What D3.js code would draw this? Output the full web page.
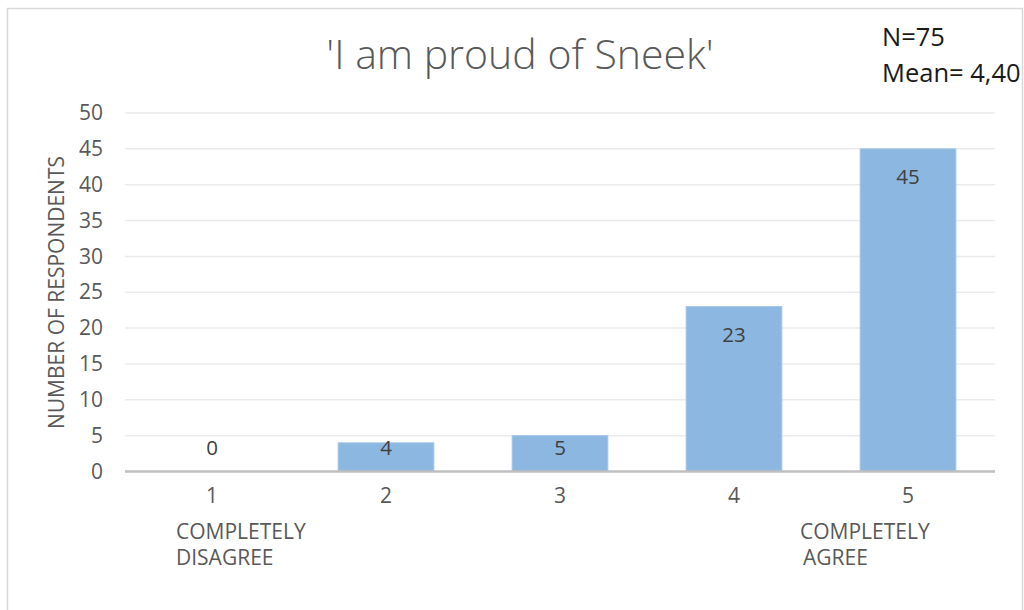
<!DOCTYPE html>
<html>
<head>
<meta charset="utf-8">
<script src="https://cdn.jsdelivr.net/npm/d3@7"></script>
<style>
  html, body { margin: 0; padding: 0; background: #fff; }
  svg { display: block; font-family: "Open Sans", sans-serif; }
</style>
</head>
<body>
<svg id="chart" width="1024" height="610"></svg>
<script>
// Survey answers on a 1–5 agreement scale
const categories = ["1", "2", "3", "4", "5"];
const respondents = [0, 4, 5, 23, 45];
const yTicks = [0, 5, 10, 15, 20, 25, 30, 35, 40, 45, 50];
const scaleEndLabels = [
  { category: "1", lines: ["COMPLETELY", "DISAGREE"] },
  { category: "5", lines: ["COMPLETELY", "AGREE"] }
];
const titleText = "'I am proud of Sneek'";
const statsLines = ["N=75", "Mean= 4,40"];
const yAxisTitle = "NUMBER OF RESPONDENTS";

const svg = d3.select("#chart");
const plot = { left: 125, right: 995, top: 113, bottom: 471.5 };

// Outer frame (bottom edge runs off the page)
svg.append("rect")
  .attr("x", 7.5).attr("y", 8.5)
  .attr("width", 1015).attr("height", 640)
  .attr("fill", "#fff").attr("stroke", "#d9d9d9").attr("stroke-width", 1.5);

const x = d3.scaleBand()
  .domain(categories)
  .range([plot.left, plot.right])
  .paddingInner(0.45).paddingOuter(0.225);

const y = d3.scaleLinear()
  .domain([0, 50])
  .range([plot.bottom, plot.top]);

// Horizontal gridlines
svg.append("g")
  .selectAll("line")
  .data(yTicks.filter(t => t > 0))
  .join("line")
  .attr("x1", plot.left).attr("x2", plot.right)
  .attr("y1", d => y(d)).attr("y2", d => y(d))
  .attr("stroke", "#ebebeb").attr("stroke-width", 1.5);

// Y axis tick labels
const yAxis = d3.axisLeft(y).tickValues(yTicks).tickSize(0).tickPadding(0);
const yG = svg.append("g")
  .attr("transform", `translate(${plot.left - 22},0)`)
  .call(yAxis);
yG.select(".domain").remove();
yG.selectAll("text")
  .attr("fill", "#595959")
  .style("font-size", "21px")
  .style("font-family", "'Open Sans', sans-serif");

// Bars
svg.append("g")
  .selectAll("rect")
  .data(categories.map((c, i) => ({ c, v: respondents[i] })))
  .join("rect")
  .attr("x", d => x(d.c))
  .attr("width", x.bandwidth())
  .attr("y", d => y(d.v))
  .attr("height", d => y(0) - y(d.v))
  .attr("fill", "#8cb7e1")
  .attr("stroke", "#a4c7ea").attr("stroke-width", 1);

// Baseline
svg.append("line")
  .attr("x1", plot.left).attr("x2", plot.right)
  .attr("y1", y(0)).attr("y2", y(0))
  .attr("stroke", "#bfbfbf").attr("stroke-width", 2.5);

// Value labels
svg.append("g")
  .selectAll("text")
  .data(categories.map((c, i) => ({ c, v: respondents[i] })))
  .join("text")
  .attr("x", d => x(d.c) + x.bandwidth() / 2)
  .attr("y", d => Math.min(y(d.v) + 28, y(0) - 24))
  .attr("dy", "0.35em")
  .attr("text-anchor", "middle")
  .attr("fill", "#404040")
  .style("font-size", "20.5px")
  .text(d => d.v);

// X axis category labels
const xAxis = d3.axisBottom(x).tickSize(0).tickPadding(0);
const xG = svg.append("g")
  .attr("transform", `translate(0,${y(0) + 17})`)
  .call(xAxis);
xG.select(".domain").remove();
xG.selectAll("text")
  .attr("fill", "#595959")
  .style("font-size", "21px")
  .style("font-family", "'Open Sans', sans-serif");

// Scale end descriptions
const endOffsets = { "1": -36, "5": -108 };
scaleEndLabels.forEach(lbl => {
  const cx = x(lbl.category) + x.bandwidth() / 2;
  const t = svg.append("text")
    .attr("x", cx + endOffsets[lbl.category])
    .attr("y", 539)
    .attr("fill", "#595959")
    .style("font-size", "21px");
  lbl.lines.forEach((line, i) => {
    t.append("tspan")
      .attr("x", cx + endOffsets[lbl.category] + (i === 1 && lbl.category === "5" ? 3 : 0))
      .attr("dy", i === 0 ? 0 : 26)
      .text(line);
  });
});

// Y axis title
svg.append("text")
  .attr("transform", `translate(64,${(157 + 428) / 2}) rotate(-90)`)
  .attr("text-anchor", "middle")
  .attr("fill", "#595959")
  .style("font-size", "21px")
  .text(yAxisTitle);

// Chart title
svg.append("text")
  .attr("x", 520).attr("y", 69)
  .attr("text-anchor", "middle")
  .attr("fill", "#595959")
  .style("font-size", "41px")
  .style("font-weight", 300)
  .text(titleText);

// Sample statistics
svg.append("g")
  .selectAll("text")
  .data(statsLines)
  .join("text")
  .attr("x", 882)
  .attr("y", (d, i) => 46 + i * 36)
  .attr("fill", "#1a1a1a")
  .style("font-size", "25.5px")
  .text(d => d);
</script>
</body>
</html>
